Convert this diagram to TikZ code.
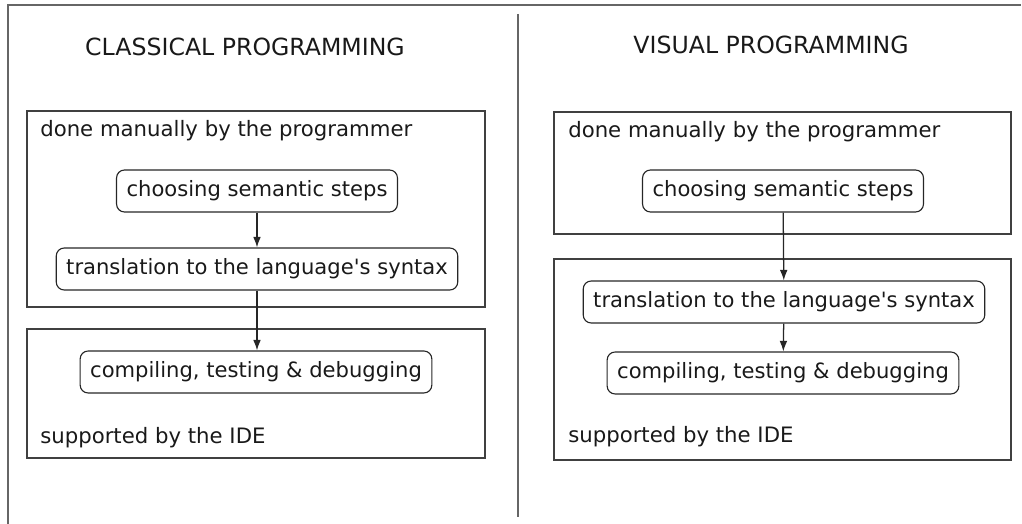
\documentclass[tikz,border=0pt]{standalone}
\usepackage{fontspec}
\setmainfont{DejaVu Sans}
\usetikzlibrary{positioning, arrows.meta}

\begin{document}
\begin{tikzpicture}[x=0.025cm, y=-0.025cm]
    \tikzstyle{title} = [font=\fontsize{16.8}{19}\selectfont, text=black!90]
    \tikzstyle{area} = [rectangle, draw=black!75, line width=0.9pt, inner sep=0pt]
    \tikzstyle{note} = [anchor=west, font=\fontsize{15.1}{17}\selectfont, text=black!90, inner sep=0pt]
    \tikzstyle{stepbox} = [rectangle, draw=black!85, line width=0.8pt, rounded corners=0.2cm,
        font=\fontsize{15}{17}\selectfont, text=black!90, minimum height=1.05cm, inner xsep=0.25cm]
    \tikzstyle{line} = [draw, black!85, line width=0.9pt, -{Latex[length=7.5pt, width=5.5pt]}]
    \tikzstyle{frame} = [draw, black!60, line width=1.1pt]

    \useasboundingbox (0,0) rectangle (1022,524);

    % frame and divider
    \coordinate (topleft) at (8,5);
    \coordinate (topright) at (1021,5);
    \coordinate (bottomleft) at (8,524);
    \coordinate (divtop) at (518,14);
    \coordinate (divbottom) at (518,517);
    \path [frame] (bottomleft) -- (topleft) -- (topright);
    \path [frame] (divtop) -- (divbottom);

    % classical programming
    \node [title] (classical) at (245,47) {CLASSICAL PROGRAMMING};
    \node [area, minimum width=11.45cm, minimum height=4.9cm] (cmanual) at (256,209) {};
    \node [area, minimum width=11.45cm, minimum height=3.225cm] (cide) at (256,393.5) {};
    \node [note] (cmanuallabel) at (40,131) {done manually by the programmer};
    \node [note] (cidelabel) at (40,438) {supported by the IDE};
    \node [stepbox] (csemantic) at (257,191) {choosing semantic steps};
    \node [stepbox] (csyntax) at (257,269) {translation to the language\textquotesingle s syntax};
    \node [stepbox] (ccompile) at (256,372) {compiling, testing \& debugging};

    \path [line] (csemantic) -- (csyntax);
    \path [line] (csyntax.south) -- (ccompile.north -| csyntax.south);

    % visual programming
    \node [title] (visual) at (771,45) {VISUAL PROGRAMMING};
    \node [area, minimum width=11.425cm, minimum height=3.05cm] (vmanual) at (782.5,173) {};
    \node [area, minimum width=11.425cm, minimum height=5.025cm] (vide) at (782.5,359.5) {};
    \node [note] (vmanuallabel) at (568,132) {done manually by the programmer};
    \node [note] (videlabel) at (568,437) {supported by the IDE};
    \node [stepbox] (vsemantic) at (783,191) {choosing semantic steps};
    \node [stepbox] (vsyntax) at (784,302) {translation to the language\textquotesingle s syntax};
    \node [stepbox] (vcompile) at (783,373) {compiling, testing \& debugging};

    \path [line] (vsemantic) -- (vsyntax);
    \path [line] (vsyntax) -- (vcompile);
\end{tikzpicture}
\end{document}
